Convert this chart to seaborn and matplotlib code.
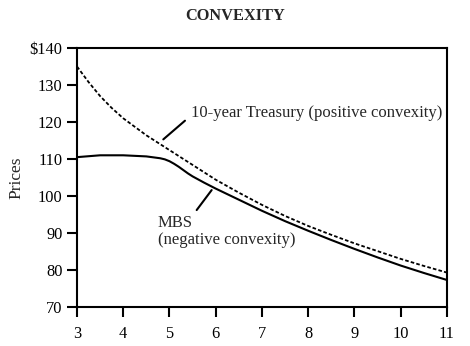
import matplotlib
matplotlib.use("Agg")
import matplotlib.pyplot as plt
import seaborn as sns
import pandas as pd

# Yield levels (%) and prices for each security
treasury_yield = [3.0, 3.25, 3.5, 3.75, 4.0, 4.5, 5.0, 5.5, 6.0, 6.5, 7.0, 7.5, 8.0, 8.5, 9.0, 9.5, 10.0, 10.5, 11.0]
treasury_price = [135.0, 130.8, 127.0, 123.8, 121.0, 116.4, 112.4, 108.4, 104.4, 100.9, 97.6, 94.6, 91.9, 89.5, 87.2, 85.1, 83.0, 81.1, 79.3]

mbs_yield = [3.0, 3.5, 4.0, 4.5, 4.8, 4.9, 5.0, 5.1, 5.2, 5.3, 5.4, 5.5, 5.75, 6.0, 6.5, 7.0, 7.5, 8.0, 8.5, 9.0, 9.5, 10.0, 10.5, 11.0]
mbs_price = [110.5, 111.0, 111.0, 110.7, 110.2, 109.9, 109.4, 108.7, 107.9, 107.0, 106.1, 105.3, 103.6, 102.0, 99.0, 96.0, 93.2, 90.6, 88.1, 85.7, 83.4, 81.2, 79.2, 77.3]

y_ticks = [70, 80, 90, 100, 110, 120, 130, 140]
y_tick_labels = ["70", "80", "90", "100", "110", "120", "130", "$140"]
x_ticks = [3, 4, 5, 6, 7, 8, 9, 10, 11]

treasury_df = pd.DataFrame({"yield": treasury_yield, "price": treasury_price})
mbs_df = pd.DataFrame({"yield": mbs_yield, "price": mbs_price})

sns.set_style("ticks")
plt.rcParams["font.family"] = ["Liberation Serif", "DejaVu Serif"]

fig = plt.figure(figsize=(4.7, 3.46), dpi=100)
ax = fig.add_axes([0.1638, 0.1127, 0.7872, 0.7486])

sns.lineplot(data=treasury_df, x="yield", y="price", ax=ax, color="black",
             linewidth=1.3, linestyle=(0, (2.0, 1.2)))
sns.lineplot(data=mbs_df, x="yield", y="price", ax=ax, color="black",
             linewidth=1.5)

ax.set_xlim(3, 11)
ax.set_ylim(70, 140)
ax.set_xticks(x_ticks)
ax.set_xticklabels([str(t) for t in x_ticks])
ax.set_yticks(y_ticks)
ax.set_yticklabels(y_tick_labels)
ax.set_xlabel("")
ax.set_ylabel("Prices", fontsize=12.5)
ax.yaxis.set_label_coords(-0.143, 0.5)
ax.tick_params(axis="both", direction="out", length=7.5, width=1.5,
               labelsize=11.8, colors="black")
ax.tick_params(axis="x", pad=6)
ax.tick_params(axis="y", pad=3)
for side in ["top", "right", "left", "bottom"]:
    ax.spines[side].set_visible(True)
    ax.spines[side].set_linewidth(1.5)
    ax.spines[side].set_color("black")

# Leader lines and labels
ax.plot([4.866, 5.335], [115.3, 120.35], color="black", linewidth=1.5)
ax.text(5.46, 122.5, "10-year Treasury (positive convexity)", fontsize=12,
        ha="left", va="center")
ax.plot([5.588, 5.912], [96.2, 101.6], color="black", linewidth=1.5)
ax.text(4.75, 92.7, "MBS", fontsize=12, ha="left", va="center")
ax.text(4.75, 88.1, "(negative convexity)", fontsize=12, ha="left", va="center")

fig.text(0.5, 0.955, "CONVEXITY", ha="center", va="center", fontsize=11.8,
         fontweight="bold")

fig.savefig("out.png", dpi=100, facecolor="white")
